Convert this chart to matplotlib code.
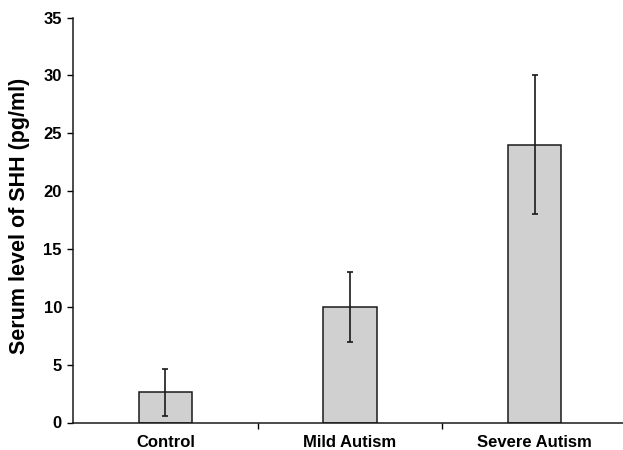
import matplotlib
matplotlib.use("Agg")
import matplotlib.pyplot as plt

categories = ["Control", "Mild Autism", "Severe Autism"]
shh_means = [2.6, 10.0, 24.0]
shh_errors = [2.0, 3.0, 6.0]
y_ticks = [0, 5, 10, 15, 20, 25, 30, 35]

plt.rcParams["font.family"] = ["Liberation Sans", "DejaVu Sans"]
plt.rcParams["font.weight"] = "bold"

fig = plt.figure(figsize=(6.23, 4.5), dpi=100)
ax = fig.add_axes([73 / 623, 1 - 422.5 / 450, 554 / 623, 405 / 450])

x = list(range(len(categories)))
ax.bar(x, shh_means, width=0.29, color="#d0d0d0", edgecolor="#1a1a1a",
       linewidth=1.1, zorder=2)
ax.errorbar(x, shh_means, yerr=shh_errors, fmt="none", ecolor="#1a1a1a",
            elinewidth=1.2, capsize=2.5, capthick=1.2, zorder=3)

ax.set_xlim(-0.5, 2.5)
ax.set_ylim(0, 35)
ax.set_yticks(y_ticks)
ax.set_yticklabels([str(t) for t in y_ticks], fontsize=12, fontweight="bold")

ax.set_xticks(x)
ax.set_xticklabels(categories, fontsize=12, fontweight="bold")
ax.tick_params(axis="x", which="major", length=0, pad=9)
ax.set_xticks([0.5, 1.5], minor=True)
ax.tick_params(axis="x", which="minor", length=4, width=1, direction="out")
ax.tick_params(axis="y", length=4, width=1, direction="out", pad=4)

for side in ("top", "right"):
    ax.spines[side].set_visible(False)
for side in ("left", "bottom"):
    ax.spines[side].set_linewidth(1.1)
    ax.spines[side].set_color("#1a1a1a")

ax.set_ylabel("Serum level of SHH (pg/ml)", fontsize=15.5, fontweight="bold")
ax.yaxis.set_label_coords(-0.077, 0.51)

fig.savefig("out.png", dpi=100)
